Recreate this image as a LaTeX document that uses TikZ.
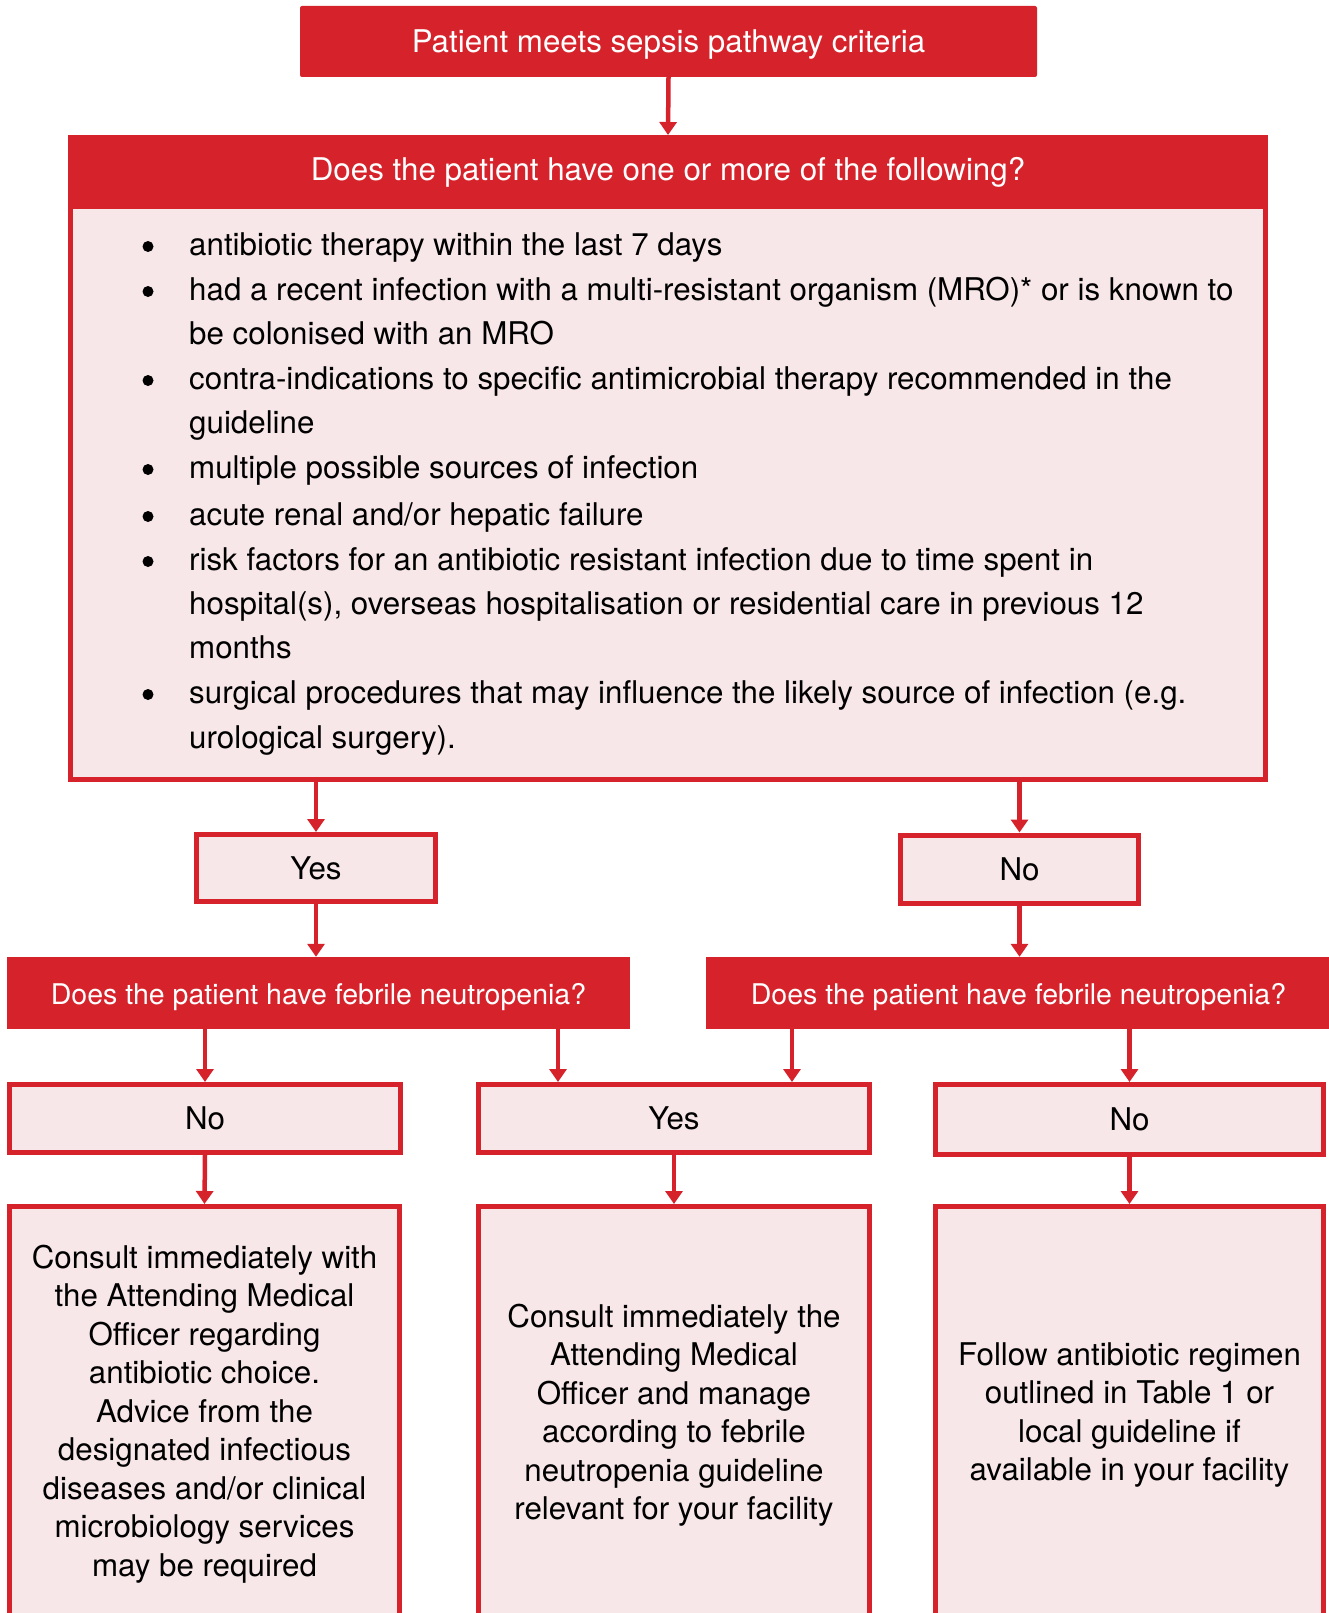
\documentclass[tikz,border=0pt]{standalone}
\usepackage{fontspec}
\setmainfont{TeX Gyre Heros}
\usetikzlibrary{arrows.meta}
\definecolor{sred}{RGB}{214,35,43}
\definecolor{spink}{RGB}{248,231,233}
\newcommand{\lowerby}[2]{\raisebox{-#1}[\height][\depth]{#2}}
\begin{document}
\begin{tikzpicture}[x=1pt,y=-1pt,
  redbox/.style={fill=sred, draw=none, text=white, inner sep=0pt, font=\fontsize{31.3}{36}\selectfont},
  pinkbox/.style={fill=spink, draw=sred, line width=5pt, inner sep=0pt, font=\fontsize{31.3}{36}\selectfont},
  bodytext/.style={inner sep=0pt, anchor=base west, font=\fontsize{31.3}{36}\selectfont, text=black},
  bigtext/.style={inner sep=0pt, align=center, font=\fontsize{31.3}{38.5}\selectfont, text=black},
  dot/.style={circle, fill=black, minimum size=11pt, inner sep=0pt},
  arr/.style={draw=sred, line width=4.5pt, -{Triangle[width=17pt,length=13pt]}},
]
\useasboundingbox (0,0) rectangle (1328,1613);

% top
\node[redbox, minimum width=737, minimum height=71, rounded corners=2pt] (top) at (668.5,41.5) {\lowerby{3pt}{Patient meets sepsis pathway criteria}};

% big question box
\node[pinkbox, minimum width=1195, minimum height=642] (big) at (668,458.5) {};
\node[redbox, minimum width=1200, minimum height=74, anchor=north] (head) at (668,135) {Does the patient have one or more of the following?};

\draw[arr] (top.south) -- (head.north);

% list
\node[dot] (b1) at (148,246.5) {};
\node[dot] (b2) at (148,291.5) {};
\node[dot] (b3) at (148,380.5) {};
\node[dot] (b4) at (148,469.5) {};
\node[dot] (b5) at (148,516.5) {};
\node[dot] (b6) at (148,561.5) {};
\node[dot] (b7) at (148,694.5) {};
\node[bodytext] (l1) at (189,255) {antibiotic therapy within the last 7 days};
\node[bodytext] (l2) at (189,300) {had a recent infection with a multi-resistant organism (MRO)* or is known to};
\node[bodytext] (l3) at (189,344) {be colonised with an MRO};
\node[bodytext] (l4) at (189,389) {contra-indications to specific antimicrobial therapy recommended in the};
\node[bodytext] (l5) at (189,433) {guideline};
\node[bodytext] (l6) at (189,478) {multiple possible sources of infection};
\node[bodytext] (l7) at (189,525) {acute renal and/or hepatic failure};
\node[bodytext] (l8) at (189,570) {risk factors for an antibiotic resistant infection due to time spent in};
\node[bodytext] (l9) at (189,614) {hospital(s), overseas hospitalisation or residential care in previous 12};
\node[bodytext] (l10) at (189,658) {months};
\node[bodytext] (l11) at (189,703) {surgical procedures that may influence the likely source of infection (e.g.};
\node[bodytext] (l12) at (189,748) {urological surgery).};

% first answers
\node[pinkbox, minimum width=239, minimum height=67] (yes1) at (316,868) {Yes};
\node[pinkbox, minimum width=238, minimum height=68] (no1) at (1019.5,869) {No};
\draw[arr] (yes1.north |- big.south) -- (yes1.north);
\draw[arr] (no1.north |- big.south) -- (no1.north);

% febrile questions
\node[redbox, font=\fontsize{28.5}{34}\selectfont, minimum width=623, minimum height=72] (febL) at (318.5,993) {\lowerby{4pt}{Does the patient have febrile neutropenia?}};
\node[redbox, font=\fontsize{28.5}{34}\selectfont, minimum width=625, minimum height=72] (febR) at (1018.5,993) {\lowerby{4pt}{Does the patient have febrile neutropenia?}};
\draw[arr] (yes1.south) -- (febL.north -| yes1.south);
\draw[arr] (no1.south) -- (febR.north -| no1.south);

% second answers
\node[pinkbox, minimum width=391, minimum height=68] (noL) at (205,1118.5) {No};
\node[pinkbox, minimum width=391, minimum height=68] (yesM) at (674,1118.5) {Yes};
\node[pinkbox, minimum width=388, minimum height=70] (noR) at (1129.5,1119.5) {No};
\draw[arr] (febL.south -| noL.north) -- (noL.north);
\draw[arr] ([xshift=-116pt]yesM.north |- febL.south) -- ([xshift=-116pt]yesM.north);
\draw[arr] ([xshift=118pt]yesM.north |- febR.south) -- ([xshift=118pt]yesM.north);
\draw[arr] (febR.south -| noR.north) -- (noR.north);

% outcomes
\node[pinkbox, minimum width=390, minimum height=416] (outL) at (204.5,1414.5) {};
\node[pinkbox, minimum width=391, minimum height=416] (outM) at (674,1414.5) {};
\node[pinkbox, minimum width=388, minimum height=416] (outR) at (1129.5,1414.5) {};
\node[bigtext] (tL) at (204.5,1414) {Consult immediately with\\the Attending Medical\\Officer regarding\\antibiotic choice.\\Advice from the\\designated infectious\\diseases and/or clinical\\microbiology services\\may be required};
\node[bigtext] (tM) at (674,1415) {Consult immediately the\\Attending Medical\\Officer and manage\\according to febrile\\neutropenia guideline\\relevant for your facility};
\node[bigtext] (tR) at (1129.5,1415) {Follow antibiotic regimen\\outlined in Table 1 or\\local guideline if\\available in your facility};
\draw[arr] (noL.south) -- (outL.north);
\draw[arr] (yesM.south) -- (outM.north);
\draw[arr] (noR.south) -- (outR.north);
\end{tikzpicture}
\end{document}
